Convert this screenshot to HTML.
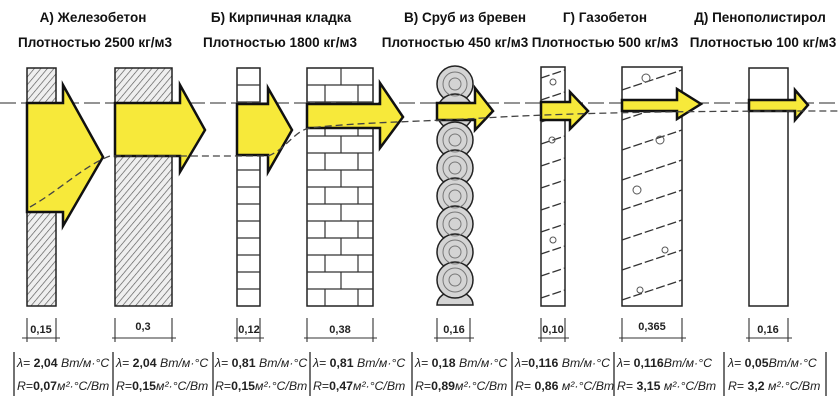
<!DOCTYPE html>
<html><head><meta charset="utf-8"><style>
body{margin:0;background:#fff;}
svg{display:block;font-family:"Liberation Sans",sans-serif;}
.t{font-weight:bold;font-size:13.5px;fill:#111;}
.d{font-weight:bold;font-size:11px;fill:#222;}
.b{font-size:12.3px;fill:#222;}
.i{font-style:italic;}
</style></head><body>
<svg width="840" height="407" viewBox="0 0 840 407">
<defs>
<pattern id="h" width="5" height="5" patternUnits="userSpaceOnUse" patternTransform="rotate(40)">
<rect width="5" height="5" fill="#efefef"/><line x1="0" y1="0" x2="0" y2="5" stroke="#555" stroke-width="1.3"/></pattern>
</defs>
<g text-anchor="middle">
<text class="t" x="93" y="22">А) Железобетон</text>
<text class="t" x="95" y="47">Плотностью 2500 кг/м3</text>
<text class="t" x="281" y="22">Б) Кирпичная кладка</text>
<text class="t" x="280" y="47">Плотностью 1800 кг/м3</text>
<text class="t" x="465" y="22">В) Сруб из бревен</text>
<text class="t" x="455" y="47">Плотностью 450 кг/м3</text>
<text class="t" x="605" y="22">Г) Газобетон</text>
<text class="t" x="605" y="47">Плотностью 500 кг/м3</text>
<text class="t" x="760" y="22">Д) Пенополистирол</text>
<text class="t" x="763" y="47">Плотностью 100 кг/м3</text>
</g>
<!-- walls -->
<g stroke="#222" stroke-width="1.5">
<rect x="27" y="68" width="29" height="238" fill="url(#h)"/>
<rect x="115" y="68" width="57" height="238" fill="url(#h)"/>
<rect x="237" y="68" width="23" height="238" fill="#fff"/>
<rect x="307" y="68" width="66" height="238" fill="#fff"/>
<rect x="541" y="67" width="24" height="239" fill="#fff"/>
<rect x="622" y="67" width="60" height="239" fill="#fff"/>
<rect x="749" y="68" width="39" height="238" fill="#fff"/>
</g>
<g stroke="#333" stroke-width="1.2">
<path d="M237 85H260M237 102H260M237 119H260M237 136H260M237 153H260M237 170H260M237 187H260M237 204H260M237 221H260M237 238H260M237 255H260M237 272H260M237 289H260"/>
<path d="M307 85H373M307 102H373M307 119H373M307 136H373M307 153H373M307 170H373M307 187H373M307 204H373M307 221H373M307 238H373M307 255H373M307 272H373M307 289H373"/>
<path d="M341 68V85M325 85V102M358 85V102M341 102V119M325 119V136M358 119V136M341 136V153M325 153V170M358 153V170M341 170V187M325 187V204M358 187V204M341 204V221M325 221V238M358 221V238M341 238V255M325 255V272M358 255V272M341 272V289M325 289V306M358 289V306"/>
</g>
<g stroke="#333" stroke-width="1.3" stroke-dasharray="9 3">
<path d="M541 78L565 70M541 100L565 92M541 122L565 114M541 144L565 136M541 166L565 158M541 188L565 180M541 210L565 202M541 232L565 224M541 254L565 246M541 276L565 268M541 298L565 290"/>
<path d="M622 90L682 70M622 120L682 100M622 150L682 130M622 180L682 160M622 210L682 190M622 240L682 220M622 270L682 250M622 300L682 280"/>
</g>
<g fill="none" stroke="#555" stroke-width="1"><circle cx="553" cy="82" r="3"/><circle cx="552" cy="140" r="3"/><circle cx="553" cy="240" r="3"/><circle cx="646" cy="78" r="4"/><circle cx="660" cy="140" r="4"/><circle cx="637" cy="190" r="4"/><circle cx="665" cy="250" r="3"/><circle cx="640" cy="290" r="3"/></g>
<!-- logs -->
<g stroke="#222" stroke-width="1.5" fill="#d4d4d4">
<path d="M437 305A18 14 0 0 1 473 305Z"/>
<circle cx="455" cy="84" r="18"/><circle cx="455" cy="112" r="18"/><circle cx="455" cy="140" r="18"/><circle cx="455" cy="168" r="18"/><circle cx="455" cy="196" r="18"/><circle cx="455" cy="224" r="18"/><circle cx="455" cy="252" r="18"/><circle cx="455" cy="280" r="18"/>
</g>
<g fill="none" stroke="#777" stroke-width="1">
<circle cx="455" cy="84" r="12"/><circle cx="455" cy="84" r="6"/><circle cx="455" cy="140" r="12"/><circle cx="455" cy="140" r="6"/><circle cx="455" cy="168" r="12"/><circle cx="455" cy="168" r="6"/><circle cx="455" cy="196" r="12"/><circle cx="455" cy="196" r="6"/><circle cx="455" cy="224" r="12"/><circle cx="455" cy="224" r="6"/><circle cx="455" cy="252" r="12"/><circle cx="455" cy="252" r="6"/><circle cx="455" cy="280" r="12"/><circle cx="455" cy="280" r="6"/>
</g>
<!-- dashed lines -->
<path d="M0 103H840" stroke="#555" stroke-width="1.2" stroke-dasharray="16 5" fill="none"/>
<!-- arrows -->
<g fill="#f7e93a" stroke="#111" stroke-width="2.5" stroke-linejoin="miter">
<path d="M27 103H63V85L103 157L63 226V212H27Z"/>
<path d="M115 103H180V85L205 130L180 172V156H115Z"/>
<path d="M237 104H268V88L292 130L268 172V155H237Z"/>
<path d="M307 104H380V83L403 117L380 148V128H307Z"/>
<path d="M437 103H475V88L493 111L475 130V120H437Z"/>
<path d="M541 102H570V92L588 111L570 129V120H541Z"/>
<path d="M622 100H677V89L701 104L677 119V111H622Z"/>
<path d="M749 100H795V90L808 105L795 120V111H749Z"/>
</g>
<path d="M30 207C60 190 85 165 110 156H268C285 150 295 130 310 128C360 122 420 122 500 117C600 112 700 111 840 111" stroke="#444" stroke-width="1.3" stroke-dasharray="7 4" fill="none"/>
<!-- dimensions -->
<g stroke="#333" stroke-width="1.1">
<path d="M27 318V342M56 318V342M22 338H60M115 318V342M172 318V342M112 338H176M237 318V342M260 318V342M234 338H264M307 318V342M373 318V342M304 338H377M437 318V342M470 318V342M434 338H474M541 318V342M565 318V342M538 338H569M622 318V342M682 318V342M619 338H686M749 318V342M788 318V342M746 338H792"/>
</g>
<g class="d" text-anchor="middle">
<text x="41" y="333">0,15</text><text x="143" y="330">0,3</text><text x="249" y="333">0,12</text><text x="340" y="333">0,38</text>
<text x="454" y="333">0,16</text><text x="553" y="333">0,10</text><text x="652" y="330">0,365</text><text x="768" y="333">0,16</text>
</g>
<g stroke="#444" stroke-width="1.5"><path d="M14 352V396M113 352V396M213 352V396M310 352V396M412 352V396M512 352V396M614 352V396M724 352V396M826 352V396"/></g>
<g class="b">
<text x="17" y="367"><tspan class="i">λ</tspan>= <tspan font-weight="bold">2,04</tspan> <tspan class="i">Вт/м·°С</tspan></text>
<text x="17" y="390"><tspan class="i">R</tspan>=<tspan font-weight="bold">0,07</tspan><tspan class="i">м²·°С/Вт</tspan></text>
<text x="116" y="367"><tspan class="i">λ</tspan>= <tspan font-weight="bold">2,04</tspan> <tspan class="i">Вт/м·°С</tspan></text>
<text x="116" y="390"><tspan class="i">R</tspan>=<tspan font-weight="bold">0,15</tspan><tspan class="i">м²·°С/Вт</tspan></text>
<text x="215" y="367"><tspan class="i">λ</tspan>= <tspan font-weight="bold">0,81</tspan> <tspan class="i">Вт/м·°С</tspan></text>
<text x="215" y="390"><tspan class="i">R</tspan>=<tspan font-weight="bold">0,15</tspan><tspan class="i">м²·°С/Вт</tspan></text>
<text x="313" y="367"><tspan class="i">λ</tspan>= <tspan font-weight="bold">0,81</tspan> <tspan class="i">Вт/м·°С</tspan></text>
<text x="313" y="390"><tspan class="i">R</tspan>=<tspan font-weight="bold">0,47</tspan><tspan class="i">м²·°С/Вт</tspan></text>
<text x="415" y="367"><tspan class="i">λ</tspan>= <tspan font-weight="bold">0,18</tspan> <tspan class="i">Вт/м·°С</tspan></text>
<text x="415" y="390"><tspan class="i">R</tspan>=<tspan font-weight="bold">0,89</tspan><tspan class="i">м²·°С/Вт</tspan></text>
<text x="515" y="367"><tspan class="i">λ</tspan>=<tspan font-weight="bold">0,116</tspan> <tspan class="i">Вт/м·°С</tspan></text>
<text x="515" y="390"><tspan class="i">R</tspan>= <tspan font-weight="bold">0,86</tspan> <tspan class="i">м²·°С/Вт</tspan></text>
<text x="617" y="367"><tspan class="i">λ</tspan>= <tspan font-weight="bold">0,116</tspan><tspan class="i">Вт/м·°С</tspan></text>
<text x="617" y="390"><tspan class="i">R</tspan>= <tspan font-weight="bold">3,15</tspan> <tspan class="i">м²·°С/Вт</tspan></text>
<text x="728" y="367"><tspan class="i">λ</tspan>= <tspan font-weight="bold">0,05</tspan><tspan class="i">Вт/м·°С</tspan></text>
<text x="728" y="390"><tspan class="i">R</tspan>= <tspan font-weight="bold">3,2</tspan>  <tspan class="i">м²·°С/Вт</tspan></text>
</g>
</svg>
</body></html>
